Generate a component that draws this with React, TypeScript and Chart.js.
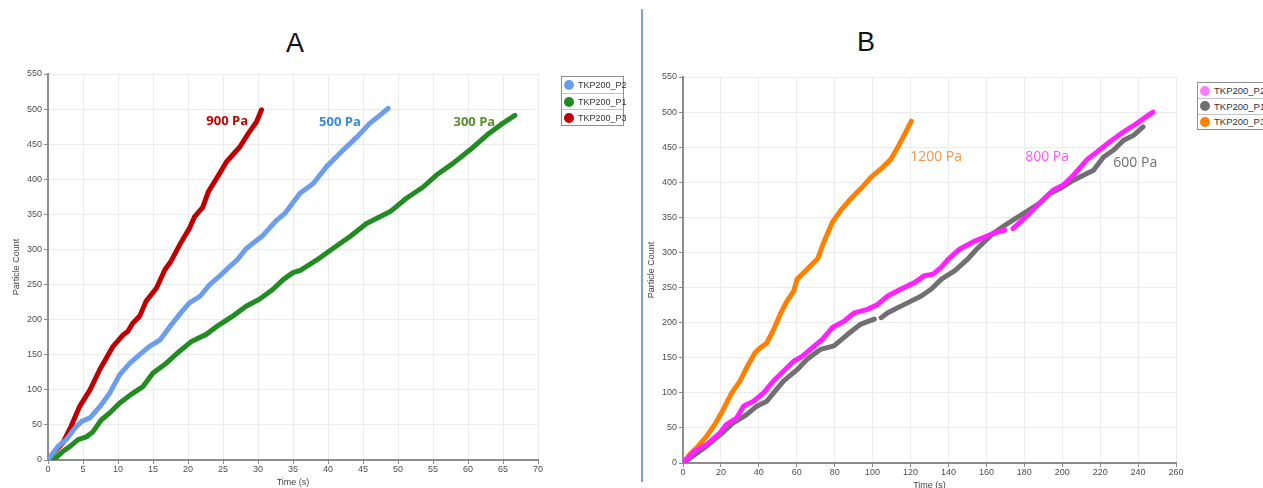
import React, { useEffect, useRef } from "react";
import { Chart, registerables } from "chart.js";

Chart.register(...registerables);

// ---- Panel A: particle count vs. time, TKP200 at 300 / 500 / 900 Pa ----
const aP2Time = [0, 1.4, 2.6, 3.8, 4.8, 6.0, 7.4, 8.8, 10.2, 11.7, 13.1, 14.5, 16.0, 17.4, 19.0, 20.2, 21.7, 23.1, 24.5, 26.0, 27.1, 28.3, 30.7, 32.6, 33.8, 36.0, 37.9, 39.8, 41.7, 44.1, 46.0, 47.4, 48.6];
const aP2Count = [0, 19, 29, 45, 55, 60, 76, 95, 121, 138, 150, 162, 171, 190, 210, 224, 233, 250, 262, 276, 286, 301, 320, 341, 351, 380, 394, 418, 437, 460, 480, 491, 501];

const aP1Time = [0, 1.0, 2.1, 3.1, 4.3, 5.5, 6.4, 7.6, 8.8, 10.2, 12.1, 13.6, 15.0, 16.9, 18.8, 20.5, 22.6, 24.5, 26.4, 28.3, 30.2, 32.1, 33.6, 35.0, 36.0, 38.4, 40.8, 43.1, 45.5, 48.9, 51.2, 53.6, 55.5, 57.9, 60.3, 62.7, 65.0, 66.7];
const aP1Count = [0, 2, 12, 19, 29, 33, 40, 57, 67, 81, 95, 105, 124, 138, 155, 169, 179, 193, 205, 219, 229, 243, 257, 267, 270, 285, 302, 318, 337, 354, 373, 389, 406, 423, 442, 463, 480, 491];

const aP3Time = [0, 0.7, 2.1, 3.3, 4.5, 6.0, 7.4, 9.3, 10.7, 11.4, 12.1, 13.1, 14.0, 15.5, 16.7, 17.5, 19.0, 20.2, 20.9, 22.1, 22.9, 24.5, 25.5, 27.4, 28.6, 29.8, 30.5];
const aP3Count = [0, 9, 24, 48, 76, 100, 129, 162, 178, 183, 195, 205, 226, 245, 271, 282, 310, 330, 346, 360, 382, 408, 425, 446, 465, 482, 499];

// ---- Panel B: particle count vs. time, TKP200 at 600 / 800 / 1200 Pa ----
// null marks a break in the recorded trace
const bP2Time = [0, 2.7, 6.2, 12.4, 19.5, 23, 28.3, 31.9, 37.2, 42.5, 47.8, 53.1, 58.4, 62.8, 68.1, 73.5, 78.8, 85, 90.3, 97.3, 102.7, 108, 115, 122.1, 127.4, 131.9, 136.3, 139.8, 146, 153, 163.5, 169.7, 171.8, 174, 181, 188, 195.3, 200.6, 205.9, 213, 218.3, 225.3, 232.4, 239.4, 243, 247.9];
const bP2Count = [0, 7, 17, 26, 43, 55, 64, 81, 88, 100, 117, 131, 145, 152, 164, 176, 193, 202, 214, 219, 226, 238, 248, 257, 267, 269, 279, 290, 305, 315, 327, 332, null, 334, 351, 370, 389, 396, 410, 432, 443, 458, 472, 484, 491, 500];

const bP1Time = [0, 5.3, 12.4, 19.5, 26.5, 33.6, 38.9, 44.2, 47.8, 53.1, 60.2, 65.5, 72.6, 79.6, 86.7, 93.8, 100.9, 102.7, 104.5, 108, 116.8, 125.7, 131, 136.3, 143.4, 150, 155, 163.5, 168.8, 174, 181, 188, 193.5, 198.8, 205.9, 211.2, 216.5, 221.8, 227.1, 232.4, 237.7, 242.6];
const bP1Count = [0, 10, 24, 40, 57, 69, 81, 88, 100, 117, 133, 148, 162, 167, 183, 198, 205, null, 207, 214, 226, 238, 248, 262, 274, 290, 305, 327, 337, 346, 358, 370, 384, 391, 403, 410, 417, 436, 446, 460, 467, 479];

const bP3Time = [0, 3.5, 8, 12.4, 16.8, 21.2, 25.7, 30.1, 33.6, 38, 40.7, 44.2, 47.8, 51.3, 54.9, 58.4, 60.2, 63.7, 67.3, 71, 74.3, 78.8, 83.2, 87.6, 93.8, 99.1, 104.4, 109.7, 113.3, 116.8, 120.4];
const bP3Count = [0, 12, 24, 38, 55, 76, 100, 117, 136, 157, 164, 171, 190, 212, 231, 245, 262, 271, 281, 291, 315, 343, 360, 374, 391, 407, 419, 433, 450, 468, 487];

const seriesNames = ["TKP200_P2", "TKP200_P1", "TKP200_P3"];
const pressuresA = ["500 Pa", "300 Pa", "900 Pa"];
const pressuresB = ["800 Pa", "600 Pa", "1200 Pa"];

const xTicksA = { min: 0, max: 70, step: 5 };
const xTicksB = { min: 0, max: 260, step: 20 };
const yTicks = { min: 0, max: 550, step: 50 };

type Series = {
  name: string;
  time: number[];
  count: (number | null)[];
  color: string;
  legendColor: string;
};

const panelA: Series[] = [
  { name: seriesNames[0], time: aP2Time, count: aP2Count, color: "#6d9eeb", legendColor: "#6d9eeb" },
  { name: seriesNames[1], time: aP1Time, count: aP1Count, color: "#228b22", legendColor: "#228b22" },
  { name: seriesNames[2], time: aP3Time, count: aP3Count, color: "#c00000", legendColor: "#c00000" },
];

const panelB: Series[] = [
  { name: seriesNames[0], time: bP2Time, count: bP2Count, color: "#ff22ff", legendColor: "#ff7cff" },
  { name: seriesNames[1], time: bP1Time, count: bP1Count, color: "#707070", legendColor: "#707070" },
  { name: seriesNames[2], time: bP3Time, count: bP3Count, color: "#ff8000", legendColor: "#ff8000" },
];

type Note = { text: string; x: number; y: number; color: string; font: string };

const notesA: Note[] = [
  { text: pressuresA[2], x: 25.6, y: 483, color: "#c00000", font: "bold 13px 'Open Sans'" },
  { text: pressuresA[0], x: 41.7, y: 481, color: "#3a8ad8", font: "bold 13px 'Open Sans'" },
  { text: pressuresA[1], x: 60.9, y: 481, color: "#5a8f2a", font: "bold 13px 'Open Sans'" },
];

const notesB: Note[] = [
  { text: pressuresB[2], x: 133.5, y: 436, color: "#f7964a", font: "14px 'Open Sans'" },
  { text: pressuresB[0], x: 192, y: 436, color: "#ff55ff", font: "14px 'Open Sans'" },
  { text: pressuresB[1], x: 238.5, y: 427, color: "#6e6e6e", font: "14px 'Open Sans'" },
];

// Draws the pressure captions at data coordinates
const notesPlugin = {
  id: "seriesNotes",
  afterDatasetsDraw(chart: any, _args: any, opts: any) {
    const { ctx, scales } = chart;
    const notes: Note[] = opts.notes || [];
    notes.forEach((n) => {
      ctx.save();
      ctx.font = n.font;
      ctx.fillStyle = n.color;
      ctx.textAlign = "center";
      ctx.textBaseline = "middle";
      ctx.fillText(n.text, scales.x.getPixelForValue(n.x), scales.y.getPixelForValue(n.y));
      ctx.restore();
    });
  },
};

const tickFont = { family: "'Liberation Sans', Arial, sans-serif", size: 9 };
const tickColor = "#4d4d4d";

function buildConfig(
  series: Series[],
  xr: { min: number; max: number; step: number },
  notes: Note[],
  geom: { yWidth: number; xHeight: number; top: number; right: number; yTitlePad: number }
): any {
  return {
    type: "line",
    data: {
      datasets: series.map((s) => ({
        label: s.name,
        data: s.time.map((t, i) => ({ x: t, y: s.count[i] })),
        borderColor: s.color,
        backgroundColor: s.color,
        borderWidth: 5,
        borderCapStyle: "round",
        borderJoinStyle: "round",
        pointRadius: 0,
        tension: 0,
        spanGaps: false,
        fill: false,
      })),
    },
    options: {
      responsive: false,
      animation: false,
      devicePixelRatio: 1,
      layout: { padding: { left: 0, top: geom.top, right: geom.right, bottom: 0 } },
      plugins: {
        legend: { display: false },
        tooltip: { enabled: false },
        seriesNotes: { notes },
      },
      scales: {
        x: {
          type: "linear",
          min: xr.min,
          max: xr.max,
          afterFit: (s: any) => {
            s.height = geom.xHeight;
          },
          ticks: { stepSize: xr.step, font: tickFont, color: tickColor, padding: 0, maxRotation: 0 },
          grid: { color: "#ebebeb", lineWidth: 1, tickColor: "#8c8c8c", tickLength: 4 },
          border: { color: "#8c8c8c", width: 2 },
          title: {
            display: true,
            text: "Time (s)",
            font: tickFont,
            color: "#444",
            padding: { top: 0, bottom: 0 },
          },
        },
        y: {
          type: "linear",
          min: yTicks.min,
          max: yTicks.max,
          afterFit: (s: any) => {
            s.width = geom.yWidth;
          },
          ticks: { stepSize: yTicks.step, font: tickFont, color: tickColor, padding: 2 },
          grid: { color: "#ebebeb", lineWidth: 1, tickColor: "#8c8c8c", tickLength: 4 },
          border: { color: "#8c8c8c", width: 2 },
          title: {
            display: true,
            text: "Particle Count",
            font: tickFont,
            color: "#444",
            padding: { top: geom.yTitlePad, bottom: 0 },
          },
        },
      },
    },
    plugins: [notesPlugin],
  };
}

function Panel(props: {
  series: Series[];
  xr: { min: number; max: number; step: number };
  notes: Note[];
  left: number;
  width: number;
  height: number;
  geom: { yWidth: number; xHeight: number; top: number; right: number; yTitlePad: number };
}) {
  const ref = useRef<HTMLCanvasElement | null>(null);
  useEffect(() => {
    if (!ref.current) return;
    const chart = new Chart(ref.current, buildConfig(props.series, props.xr, props.notes, props.geom));
    return () => chart.destroy();
  }, []);
  return (
    <canvas
      ref={ref}
      width={props.width}
      height={props.height}
      style={{ position: "absolute", left: props.left, top: 0, width: props.width, height: props.height }}
    />
  );
}

function Legend(props: { series: Series[]; left: number; top: number; width: number; rowHeight: number; fontSize: number }) {
  return (
    <div
      style={{
        position: "absolute",
        left: props.left,
        top: props.top,
        width: props.width,
        border: "1px solid #8f8f8f",
        background: "#fff",
        fontFamily: "'Liberation Sans', Arial, sans-serif",
        fontSize: props.fontSize,
        color: "#333",
        boxSizing: "border-box",
      }}
    >
      {props.series.map((s, i) => (
        <div
          key={s.name}
          style={{
            height: props.rowHeight,
            display: "flex",
            alignItems: "center",
            borderTop: i === 0 ? "none" : "1px solid #c4c4c4",
            boxSizing: "border-box",
            whiteSpace: "nowrap",
          }}
        >
          <span
            style={{
              display: "inline-block",
              width: 10,
              height: 10,
              borderRadius: 5,
              background: s.legendColor,
              marginLeft: 2,
              marginRight: 4,
              flex: "none",
            }}
          />
          <span>{s.name}</span>
        </div>
      ))}
    </div>
  );
}

const titleStyle: React.CSSProperties = {
  position: "absolute",
  width: 80,
  textAlign: "center",
  fontFamily: "'Liberation Sans', Arial, sans-serif",
  fontSize: 27,
  lineHeight: "27px",
  color: "#111",
};

export default function App() {
  return (
    <div
      style={{
        position: "fixed",
        left: 0,
        top: 0,
        width: 1263,
        height: 488,
        overflow: "hidden",
        background: "#fff",
      }}
    >
      <div style={{ ...titleStyle, left: 255, top: 30 }}>A</div>
      <div style={{ ...titleStyle, left: 826, top: 29 }}>B</div>

      <Panel
        series={panelA}
        xr={xTicksA}
        notes={notesA}
        left={0}
        width={600}
        height={488}
        geom={{ yWidth: 48, xHeight: 28, top: 74, right: 62, yTitlePad: 11 }}
      />
      <Legend series={panelA} left={561} top={76} width={63} rowHeight={16} fontSize={9} />

      <div style={{ position: "absolute", left: 641, top: 9, width: 1.5, height: 473, background: "#7f9ddb" }} />

      <Panel
        series={panelB}
        xr={xTicksB}
        notes={notesB}
        left={642}
        width={621}
        height={491}
        geom={{ yWidth: 41, xHeight: 28, top: 77, right: 87, yTitlePad: 4.6 }}
      />
      <Legend series={panelB} left={1197} top={82} width={72} rowHeight={15.3} fontSize={9.5} />
    </div>
  );
}
